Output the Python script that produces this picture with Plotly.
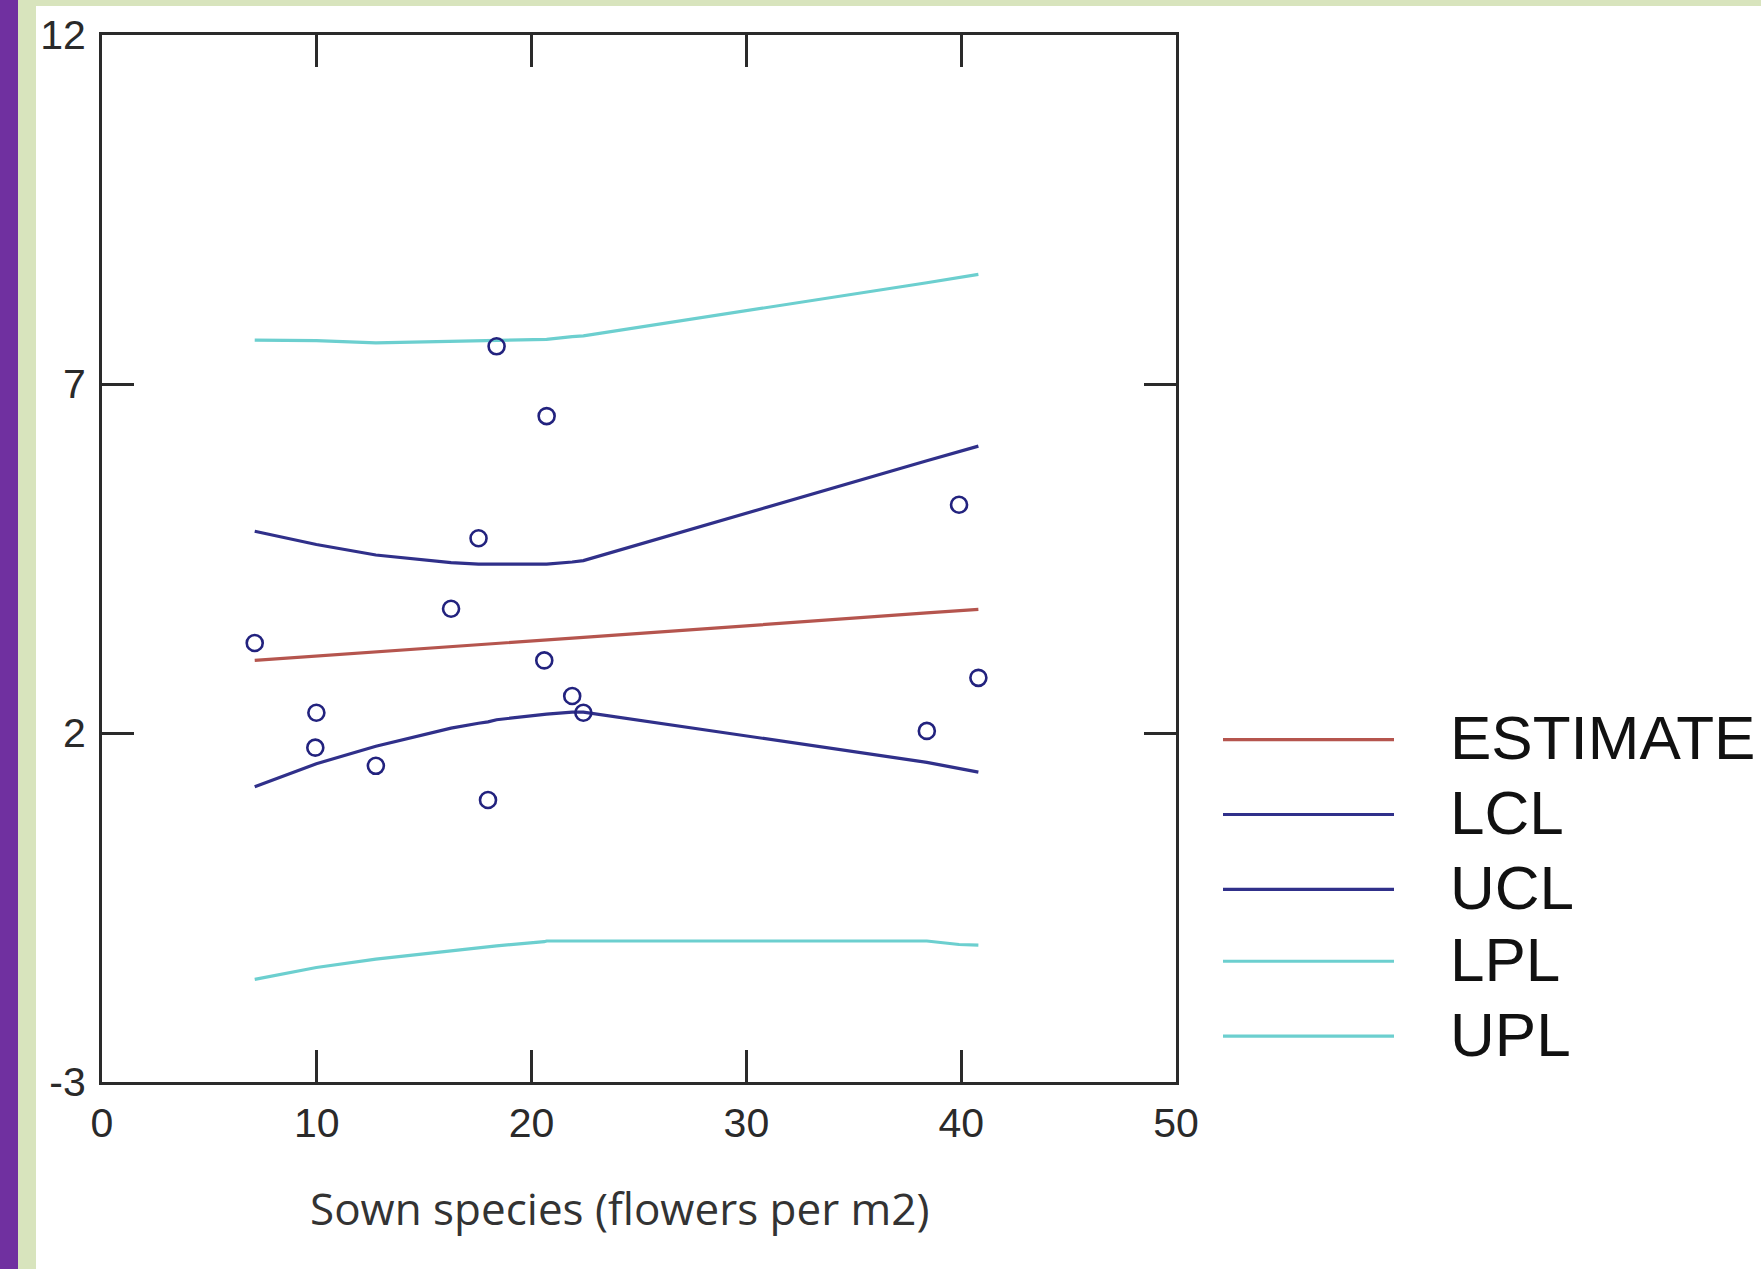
import plotly.graph_objects as go

# ---------------- data ----------------
point_x = [18.37, 20.70, 17.53, 39.90, 16.25, 7.11, 20.59, 40.80,
           21.89, 22.41, 9.98, 9.93, 12.75, 38.40, 17.97]
point_y = [7.54, 6.54, 4.79, 5.27, 3.78, 3.29, 3.04, 2.79,
           2.53, 2.29, 2.29, 1.79, 1.53, 2.03, 1.04]

curve_x = [7.11, 9.93, 9.98, 12.75, 16.25, 17.53, 17.97, 18.37,
           20.59, 20.70, 21.89, 22.41, 38.40, 39.90, 40.80]
estimate = [3.04, 3.10, 3.10, 3.16, 3.24, 3.27, 3.27, 3.28,
            3.33, 3.33, 3.36, 3.37, 3.72, 3.75, 3.77]
lcl = [1.23, 1.55, 1.56, 1.81, 2.07, 2.14, 2.16, 2.19,
       2.27, 2.27, 2.30, 2.30, 1.58, 1.49, 1.44]
ucl = [4.89, 4.70, 4.70, 4.55, 4.44, 4.42, 4.42, 4.42,
       4.42, 4.42, 4.45, 4.47, 5.90, 6.03, 6.11]
lpl = [-1.53, -1.36, -1.36, -1.24, -1.12, -1.08, -1.06, -1.05,
       -0.99, -0.98, -0.98, -0.98, -0.98, -1.03, -1.04]
upl = [7.63, 7.62, 7.62, 7.59, 7.61, 7.62, 7.62, 7.62,
       7.64, 7.64, 7.68, 7.69, 8.45, 8.52, 8.57]

series_names = ["ESTIMATE", "LCL", "UCL", "LPL", "UPL"]
series_values = [estimate, lcl, ucl, lpl, upl]
series_colors = ["#b5554e", "#30308a", "#30308a", "#6ccfcf", "#6ccfcf"]

x_tick_vals = [0, 10, 20, 30, 40, 50]
x_tick_text = ["0", "10", "20", "30", "40", "50"]
y_tick_vals = [-3, 2, 7, 12]
y_tick_text = ["-3", "2", "7", "12"]
x_title = "Sown species (flowers per m2)"

# ---------------- layout geometry ----------------
W, H = 1761, 1269
L, R, T, B = 102, 1176, 33, 1082


def px_x(p):
    return (p - L) / (R - L)


def px_y(p):
    return (B - p) / (B - T)


fig = go.Figure()

for name, vals, col in zip(series_names, series_values, series_colors):
    fig.add_trace(go.Scatter(x=curve_x, y=vals, mode="lines", name=name,
                             line=dict(color=col, width=3.2), showlegend=False))

fig.add_trace(go.Scatter(x=point_x, y=point_y, mode="markers", name="data",
                         marker=dict(symbol="circle-open", size=16,
                                     color="#22227e", line=dict(width=2.6)),
                         showlegend=False))

axis_col = "#2a2a2a"
tick_font = dict(family="Liberation Sans, Arial, sans-serif",
                 size=41, color="#2a2a2a")

fig.update_xaxes(range=[0, 50], tickvals=x_tick_vals, ticktext=x_tick_text,
                 ticks="inside", ticklen=32,
                 tickwidth=3, tickcolor=axis_col, showline=True, linewidth=3,
                 linecolor=axis_col, mirror="ticks", showgrid=False, zeroline=False,
                 tickfont=tick_font, ticklabelstandoff=3)
fig.update_yaxes(range=[-3, 12], tickvals=y_tick_vals, ticktext=y_tick_text,
                 ticks="inside", ticklen=32,
                 tickwidth=3, tickcolor=axis_col, showline=True, linewidth=3,
                 linecolor=axis_col, mirror="ticks", showgrid=False, zeroline=False,
                 tickfont=tick_font, ticklabelstandoff=5)

shapes = []
# page decoration strips
shapes.append(dict(type="rect", xref="paper", yref="paper", layer="below",
                   x0=px_x(0), x1=px_x(18), y0=px_y(H + 5), y1=px_y(-5),
                   fillcolor="#7030a0", line=dict(width=0)))
shapes.append(dict(type="rect", xref="paper", yref="paper", layer="below",
                   x0=px_x(18), x1=px_x(36), y0=px_y(H + 5), y1=px_y(-5),
                   fillcolor="#d8e4bd", line=dict(width=0)))
shapes.append(dict(type="rect", xref="paper", yref="paper", layer="below",
                   x0=px_x(18), x1=px_x(W + 5), y0=px_y(4), y1=px_y(-5),
                   fillcolor="#d8e4bd", line=dict(width=0)))

annotations = []
legend_y = [739, 814, 889, 961, 1036]
for name, col, ly in zip(series_names, series_colors, legend_y):
    shapes.append(dict(type="line", xref="paper", yref="paper",
                       x0=px_x(1223), x1=px_x(1394), y0=px_y(ly), y1=px_y(ly),
                       line=dict(color=col, width=3.2)))
    annotations.append(dict(text=name, xref="paper", yref="paper",
                            x=px_x(1448), y=px_y(ly - 2), xanchor="left",
                            yanchor="middle", showarrow=False,
                            font=dict(family="Liberation Sans, Arial, sans-serif",
                                      size=62, color="#111111")))

annotations.append(dict(text=x_title, xref="paper", yref="paper",
                        x=px_x(619), y=px_y(1208), xanchor="center",
                        yanchor="middle", showarrow=False,
                        font=dict(family="Open Sans, sans-serif", size=44,
                                  color="#333333")))

fig.update_layout(width=W, height=H, margin=dict(l=L, r=W - R, t=T, b=H - B, pad=0),
                  paper_bgcolor="white", plot_bgcolor="white",
                  shapes=shapes, annotations=annotations, showlegend=False)

fig.write_html("out.html")
